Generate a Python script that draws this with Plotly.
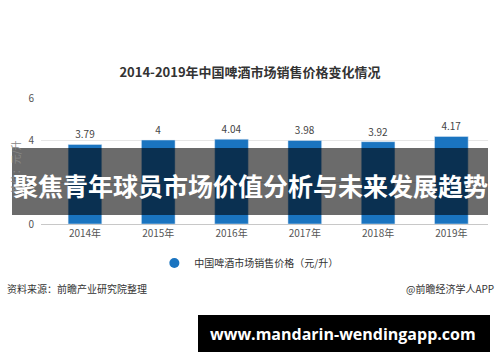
import plotly.graph_objects as go

categories = ["2014年", "2015年", "2016年", "2017年", "2018年", "2019年"]
prices = [3.79, 4, 4.04, 3.98, 3.92, 4.17]
y_ticks = [0, 2, 4, 6]
series_name = "中国啤酒市场销售价格（元/升）"
title_text = "2014-2019年中国啤酒市场销售价格变化情况"
banner_text = "聚焦青年球员市场价值分析与未来发展趋势"
source_text = "资料来源：前瞻产业研究院整理"
credit_text = "@前瞻经济学人APP"
url_text = "www.mandarin-wendingapp.com"
unit_text = "单位：元/升"

CJK = "Noto Sans CJK SC, Noto Sans, sans-serif"
BLUE = "#1a74c0"

# plot area in px: x 41..488, y 98..224
L, R, T, B = 41, 488, 98, 224
W, H = R - L, B - T
def px(x):
    return (x - L) / W
def py(y):
    return (B - y) / H

fig = go.Figure()
fig.add_trace(go.Bar(
    x=categories, y=prices, marker_color=BLUE, width=0.46,
    texttemplate="%{y}", textposition="outside",
    textfont=dict(size=10, color="#444", family=CJK),
    cliponaxis=False, showlegend=False,
))
fig.add_trace(go.Scatter(
    x=[None], y=[None], mode="markers", name=series_name,
    marker=dict(symbol="circle", size=10, color=BLUE),
))

fig.update_layout(
    width=500, height=362,
    margin=dict(l=L, r=500 - R, t=T, b=362 - B),
    paper_bgcolor="white", plot_bgcolor="white",
    font=dict(family=CJK, color="#555"),
    title=dict(text="<b>" + title_text + "</b>", x=0.5, xanchor="center",
               y=1 - 72 / 362, yanchor="middle",
               font=dict(size=13, color="#333", family=CJK)),
    xaxis=dict(range=[-0.6, 5.5], showgrid=False, showline=True,
               linecolor="#c8c8c8", tickfont=dict(size=10, color="#555"),
               ticks="", fixedrange=True),
    yaxis=dict(range=[0, 6], tickvals=y_ticks, showgrid=True,
               gridcolor="#e6e6e6", zeroline=False, showline=False,
               tickfont=dict(size=10, color="#555"), ticks="",
               ticklabelstandoff=6),
    legend=dict(orientation="h", x=0.465, xanchor="center",
                y=py(263), yanchor="middle",
                font=dict(size=10, color="#333", family=CJK)),
)

fig.add_annotation(text=unit_text, xref="paper", yref="paper",
                   x=px(15), y=0.45, xanchor="center", yanchor="middle",
                   textangle=-90, showarrow=False,
                   font=dict(size=10, color="#888", family=CJK))

fig.add_shape(type="rect", xref="paper", yref="paper",
              x0=px(12), x1=px(488), y0=py(215), y1=py(148),
              fillcolor="rgba(0,0,0,0.58)", line_width=0, layer="above")
fig.add_annotation(text="<b>" + banner_text + "</b>", xref="paper", yref="paper",
                   x=px(250), y=py(185), xanchor="center", yanchor="middle",
                   showarrow=False,
                   font=dict(size=25, color="white", family=CJK))

fig.add_annotation(text=source_text, xref="paper", yref="paper",
                   x=px(5), y=py(288), xanchor="left", yanchor="middle",
                   showarrow=False,
                   font=dict(size=10, color="#333", family=CJK))
fig.add_annotation(text=credit_text, xref="paper", yref="paper",
                   x=px(496), y=py(288), xanchor="right", yanchor="middle",
                   showarrow=False,
                   font=dict(size=10, color="#333", family=CJK))

fig.add_shape(type="rect", xref="paper", yref="paper",
              x0=px(198), x1=px(490), y0=py(352), y1=py(315),
              fillcolor="black", line_width=0, layer="above")
fig.add_annotation(text="<b>" + url_text + "</b>", xref="paper", yref="paper",
                   x=px(343), y=py(333.5), xanchor="center", yanchor="middle",
                   showarrow=False,
                   font=dict(size=16, color="white", family="Open Sans, DejaVu Sans, sans-serif"))

fig.write_html("out.html")
